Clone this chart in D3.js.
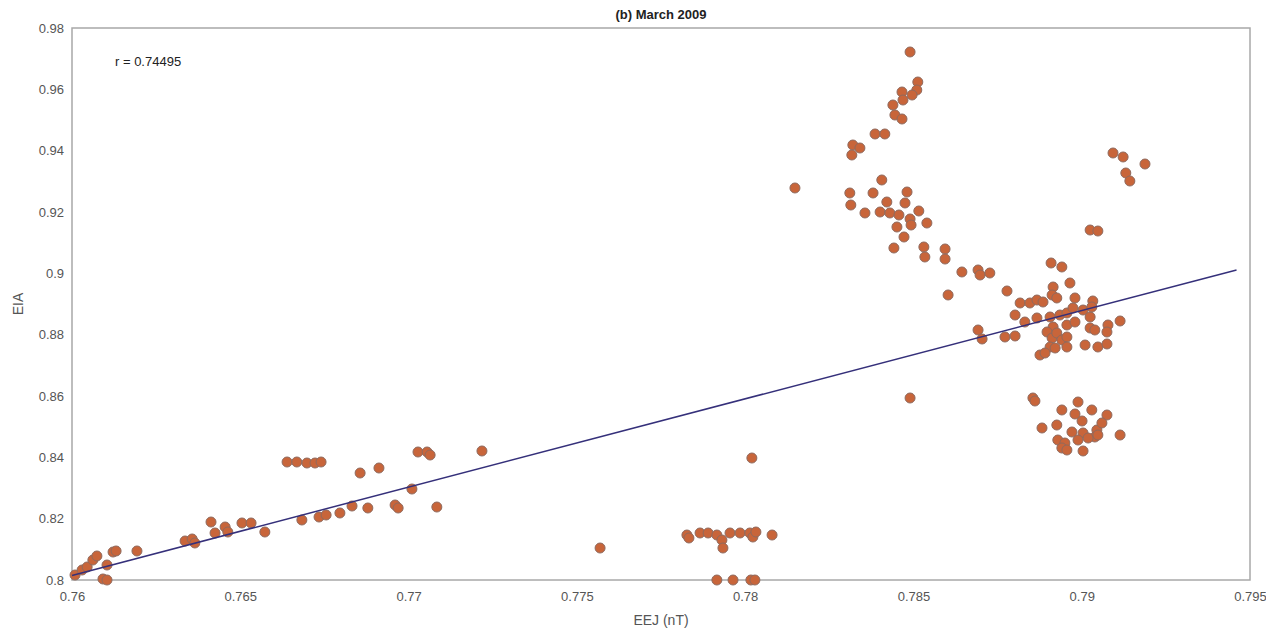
<!DOCTYPE html>
<html>
<head>
<meta charset="utf-8">
<script src="https://cdn.jsdelivr.net/npm/d3@7"></script>
<style>
  body { margin: 0; background: #fff; }
  text { font-family: "Liberation Sans", Arial, sans-serif; }
</style>
</head>
<body>
<svg width="1266" height="634"></svg>
<script>
var eej = [
  0.76009, 0.76030, 0.76045, 0.76062, 0.76074, 0.76104, 0.76092, 0.76104, 0.76122, 0.76131,
  0.76193, 0.76336, 0.76357, 0.76365, 0.76413, 0.76425, 0.76455, 0.76463, 0.76505, 0.76532,
  0.76573, 0.76639, 0.76668, 0.76698, 0.76722, 0.76740, 0.76683, 0.76734, 0.76755, 0.76796,
  0.76832, 0.76856, 0.76879, 0.76912, 0.76960, 0.76969, 0.77010, 0.77028, 0.77055, 0.77064,
  0.77084, 0.77218, 0.77569, 0.77827, 0.77833, 0.77866, 0.77890, 0.77916, 0.77931, 0.77934,
  0.77955, 0.77985, 0.78014, 0.78023, 0.78032, 0.78080, 0.78020, 0.77916, 0.77964, 0.78017,
  0.78029, 0.78148, 0.78490, 0.78513, 0.78510, 0.78496, 0.78466, 0.78469, 0.78439, 0.78445,
  0.78466, 0.78386, 0.78415, 0.78320, 0.78341, 0.78317, 0.78406, 0.78311, 0.78314, 0.78380,
  0.78481, 0.78421, 0.78475, 0.78356, 0.78401, 0.78430, 0.78457, 0.78490, 0.78516, 0.78540,
  0.78451, 0.78493, 0.78472, 0.78442, 0.78531, 0.78534, 0.78594, 0.78594, 0.78644, 0.78692,
  0.78698, 0.78727, 0.78603, 0.78490, 0.78909, 0.78941, 0.78778, 0.78915, 0.78965, 0.78817,
  0.78846, 0.78867, 0.78885, 0.78912, 0.78926, 0.78980, 0.79033, 0.78802, 0.78831, 0.78867,
  0.78906, 0.78935, 0.78956, 0.78974, 0.79004, 0.79025, 0.79030, 0.78915, 0.78956, 0.78980,
  0.79025, 0.79039, 0.79078, 0.79075, 0.79114, 0.78692, 0.78704, 0.78772, 0.78802, 0.78897,
  0.78912, 0.78926, 0.78941, 0.78956, 0.78906, 0.78921, 0.78956, 0.78876, 0.78891, 0.79010,
  0.79048, 0.79075, 0.78855, 0.78861, 0.78941, 0.78989, 0.79030, 0.79075, 0.78980, 0.79001,
  0.78926, 0.78882, 0.78971, 0.79004, 0.79045, 0.79060, 0.79039, 0.79114, 0.78929, 0.78950,
  0.78989, 0.79019, 0.79048, 0.78941, 0.78956, 0.79004, 0.79093, 0.79123, 0.79188, 0.79131,
  0.79143, 0.79025, 0.79048
];

var eia = [
  0.80163, 0.80326, 0.80424, 0.80652, 0.80783, 0.80489, 0.80033, 0.80000, 0.80913, 0.80946,
  0.80946, 0.81272, 0.81337, 0.81207, 0.81891, 0.81533, 0.81728, 0.81565, 0.81859, 0.81859,
  0.81565, 0.83848, 0.83848, 0.83815, 0.83815, 0.83848, 0.81957, 0.82054, 0.82120, 0.82185,
  0.82413, 0.83489, 0.82348, 0.83652, 0.82446, 0.82348, 0.82967, 0.84174, 0.84174, 0.84076,
  0.82380, 0.84207, 0.81043, 0.81467, 0.81370, 0.81533, 0.81533, 0.81467, 0.81304, 0.81043,
  0.81533, 0.81533, 0.81533, 0.81402, 0.81565, 0.81467, 0.83978, 0.80000, 0.80000, 0.80000,
  0.80000, 0.92783, 0.97218, 0.96239, 0.95978, 0.95815, 0.95913, 0.95652, 0.95489, 0.95163,
  0.95033, 0.94544, 0.94544, 0.94185, 0.94087, 0.93859, 0.93044, 0.92620, 0.92228, 0.92620,
  0.92652, 0.92326, 0.92294, 0.91968, 0.92000, 0.91968, 0.91902, 0.91772, 0.92033, 0.91641,
  0.91511, 0.91576, 0.91185, 0.90826, 0.90859, 0.90533, 0.90794, 0.90467, 0.90044, 0.90109,
  0.89946, 0.90011, 0.89294, 0.85935, 0.90337, 0.90207, 0.89424, 0.89554, 0.89685, 0.89033,
  0.89033, 0.89130, 0.89065, 0.89294, 0.89196, 0.89196, 0.89098, 0.88641, 0.88413, 0.88544,
  0.88576, 0.88641, 0.88707, 0.88870, 0.88804, 0.88576, 0.88902, 0.88250, 0.88315, 0.88413,
  0.88217, 0.88152, 0.88315, 0.88087, 0.88446, 0.88152, 0.87859, 0.87924, 0.87957, 0.88087,
  0.87891, 0.88054, 0.87826, 0.87924, 0.87598, 0.87565, 0.87598, 0.87337, 0.87402, 0.87663,
  0.87598, 0.87696, 0.85935, 0.85837, 0.85544, 0.85804, 0.85544, 0.85380, 0.85413, 0.85185,
  0.85054, 0.84957, 0.84826, 0.84794, 0.84891, 0.85120, 0.84663, 0.84728, 0.84565, 0.84467,
  0.84565, 0.84630, 0.84728, 0.84304, 0.84239, 0.84207, 0.93924, 0.93794, 0.93565, 0.93272,
  0.93011, 0.91413, 0.91380
];

// regression line end points
var fitX = [0.76, 0.7946];
var fitY = [0.8015, 0.9011];

var xTicks = [0.76, 0.765, 0.77, 0.775, 0.78, 0.785, 0.79, 0.795];
var yTicks = [0.8, 0.82, 0.84, 0.86, 0.88, 0.9, 0.92, 0.94, 0.96, 0.98];

var svg = d3.select("svg"),
    margin = {top: 28, right: 16, bottom: 54, left: 72},
    width = svg.attr("width") - margin.left - margin.right,
    height = svg.attr("height") - margin.top - margin.bottom;

var x = d3.scaleLinear().domain([0.76, 0.795]).range([0, width]),
    y = d3.scaleLinear().domain([0.8, 0.98]).range([height, 0]);

var g = svg.append("g")
    .attr("transform", "translate(" + margin.left + "," + margin.top + ")");

// axes
var xAxis = g.append("g")
    .attr("transform", "translate(0," + height + ")")
    .call(d3.axisBottom(x).tickValues(xTicks).tickSize(0).tickPadding(12)
      .tickFormat(function(d) { return String(+d.toFixed(3)); }));

var yAxis = g.append("g")
    .call(d3.axisLeft(y).tickValues(yTicks).tickSize(0).tickPadding(8)
      .tickFormat(function(d) { return String(+d.toFixed(2)); }));

[xAxis, yAxis].forEach(function(a) {
  a.select(".domain").remove();
  a.selectAll("text").attr("fill", "#555").style("font-size", "13px");
});

// box
g.append("rect")
    .attr("width", width)
    .attr("height", height)
    .attr("fill", "none")
    .attr("stroke", "#a8a8a8")
    .attr("stroke-width", 1.5);

// points
g.selectAll(".dot")
    .data(d3.range(eej.length))
    .enter().append("circle")
      .attr("class", "dot")
      .attr("cx", function(i) { return x(eej[i]); })
      .attr("cy", function(i) { return y(eia[i]); })
      .attr("r", 5)
      .attr("fill", "#c8653a")
      .attr("stroke", "#8f6a5e")
      .attr("stroke-width", 1);

// fit line
g.append("path")
    .datum(d3.range(fitX.length))
    .attr("fill", "none")
    .attr("stroke", "#35307a")
    .attr("stroke-width", 1.5)
    .attr("d", d3.line()
      .x(function(i) { return x(fitX[i]); })
      .y(function(i) { return y(fitY[i]); }));

// texts
g.append("text")
    .attr("x", 43)
    .attr("y", 38)
    .attr("fill", "#222")
    .style("font-size", "13px")
    .text("r = 0.74495");

svg.append("text")
    .attr("x", margin.left + width / 2)
    .attr("y", 19)
    .attr("text-anchor", "middle")
    .attr("fill", "#222")
    .style("font-size", "13px")
    .style("font-weight", "bold")
    .text("(b) March 2009");

svg.append("text")
    .attr("x", margin.left + width / 2)
    .attr("y", 625)
    .attr("text-anchor", "middle")
    .attr("fill", "#555")
    .style("font-size", "14px")
    .text("EEJ (nT)");

svg.append("text")
    .attr("transform", "translate(23," + (margin.top + height / 2) + ") rotate(-90)")
    .attr("text-anchor", "middle")
    .attr("fill", "#555")
    .style("font-size", "14px")
    .text("EIA");
</script>
</body>
</html>
